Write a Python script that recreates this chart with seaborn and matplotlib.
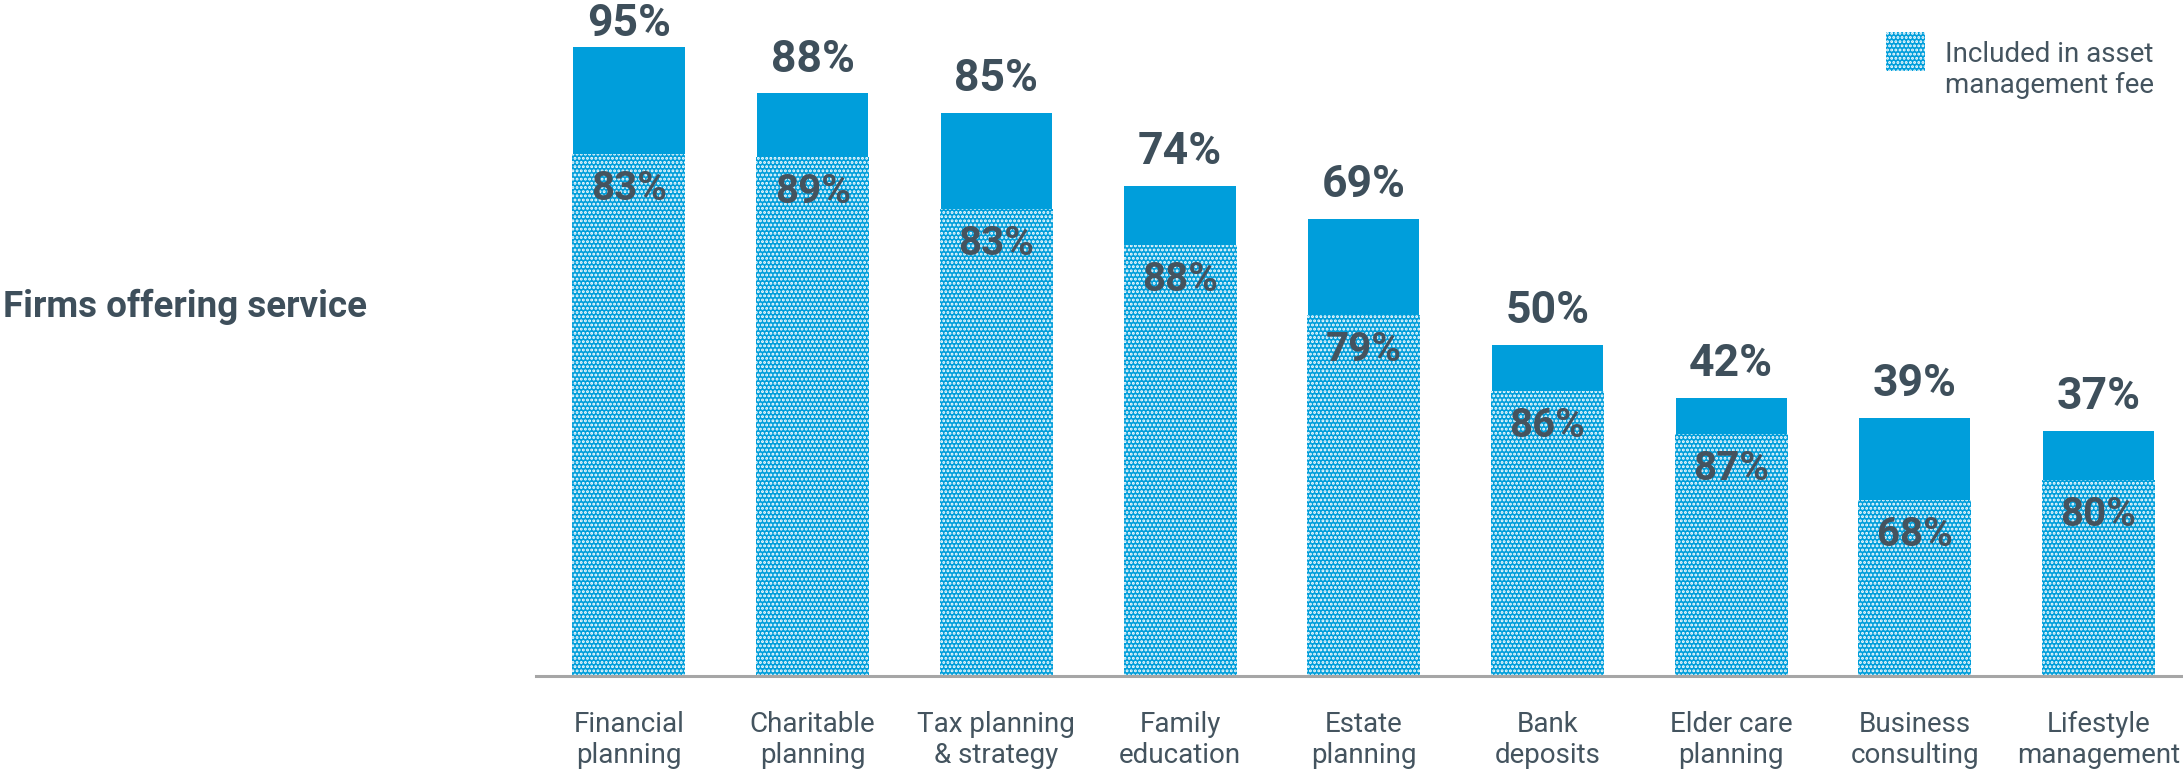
import matplotlib
matplotlib.use("Agg")
import matplotlib.pyplot as plt
from matplotlib.patches import Rectangle
import seaborn as sns

# Services and survey results
services = ["Financial\nplanning", "Charitable\nplanning", "Tax planning\n& strategy",
            "Family\neducation", "Estate\nplanning", "Bank\ndeposits",
            "Elder care\nplanning", "Business\nconsulting", "Lifestyle\nmanagement"]
offering_pct = [95, 88, 85, 74, 69, 50, 42, 39, 37]        # firms offering the service
included_pct = [83, 89, 83, 88, 79, 86, 87, 68, 80]        # of those, included in AM fee

BLUE = "#009edb"
DARK = "#3e4f5b"
LABEL = "#44545f"
AXIS_GREY = "#a6a6a6"

sns.set_theme(style="white")
plt.rcParams["font.family"] = ["Roboto", "DejaVu Sans"]
plt.rcParams["hatch.linewidth"] = 1.4

W, H = 2183, 772
YMAX = 102.1
fig = plt.figure(figsize=(W / 100, H / 100), dpi=100)
ax = fig.add_axes([536 / W, (H - 676) / H, 1 - 536 / W, 676 / H])

included_height = [o * f / 100 for o, f in zip(offering_pct, included_pct)]

sns.barplot(x=services, y=offering_pct, color=BLUE, saturation=1, width=0.605,
            linewidth=0, ax=ax)
sns.barplot(x=services, y=included_height, color=BLUE, saturation=1, width=0.615,
            hatch="....", edgecolor="white", linewidth=0, ax=ax)

ax.set_xlim(-0.506, 8.46)
ax.set_ylim(0, YMAX)
ax.set_yticks([])
ax.set_ylabel("")
for side in ("left", "right", "top"):
    ax.spines[side].set_visible(False)
ax.spines["bottom"].set_color(AXIS_GREY)
ax.spines["bottom"].set_linewidth(2.2)

ax.tick_params(axis="x", length=0, pad=25, labelsize=20, labelcolor=LABEL)
for lab in ax.get_xticklabels():
    lab.set_fontweight("normal")
    lab.set_linespacing(1.22)

# value labels: totals above the bars (kept inside the canvas), shares inside
label_gap = 3.3           # data units between bar top and label baseline
label_ceiling = 96.6      # highest baseline that still fits the figure
for i, (tot, inc, frac) in enumerate(zip(offering_pct, included_height, included_pct)):
    ax.text(i, min(tot + label_gap, label_ceiling), f"{tot}%",
            ha="center", va="baseline", fontsize=32, fontweight="bold", color=DARK)
    ax.annotate(f"{frac}%", (i, inc), xytext=(0, -33), textcoords="offset points",
                ha="center", va="baseline", fontsize=29, fontweight="bold",
                color="#45535e")

fig.text(3 / W, 1 - 317 / H, "Firms offering service", fontsize=26.5,
         fontweight="bold", color=DARK, ha="left", va="baseline")

# Legend key
fig.patches.append(Rectangle((1886 / W, 1 - 71 / H), 39 / W, 39 / H,
                             transform=fig.transFigure, facecolor=BLUE,
                             edgecolor="white", linewidth=0, hatch="...."))
fig.text(1945 / W, 1 - 62 / H, "Included in asset", fontsize=20,
         color=LABEL, ha="left", va="baseline")
fig.text(1945 / W, 1 - 93 / H, "management fee", fontsize=20,
         color=LABEL, ha="left", va="baseline")

fig.savefig("out.png", dpi=100, facecolor="white")
